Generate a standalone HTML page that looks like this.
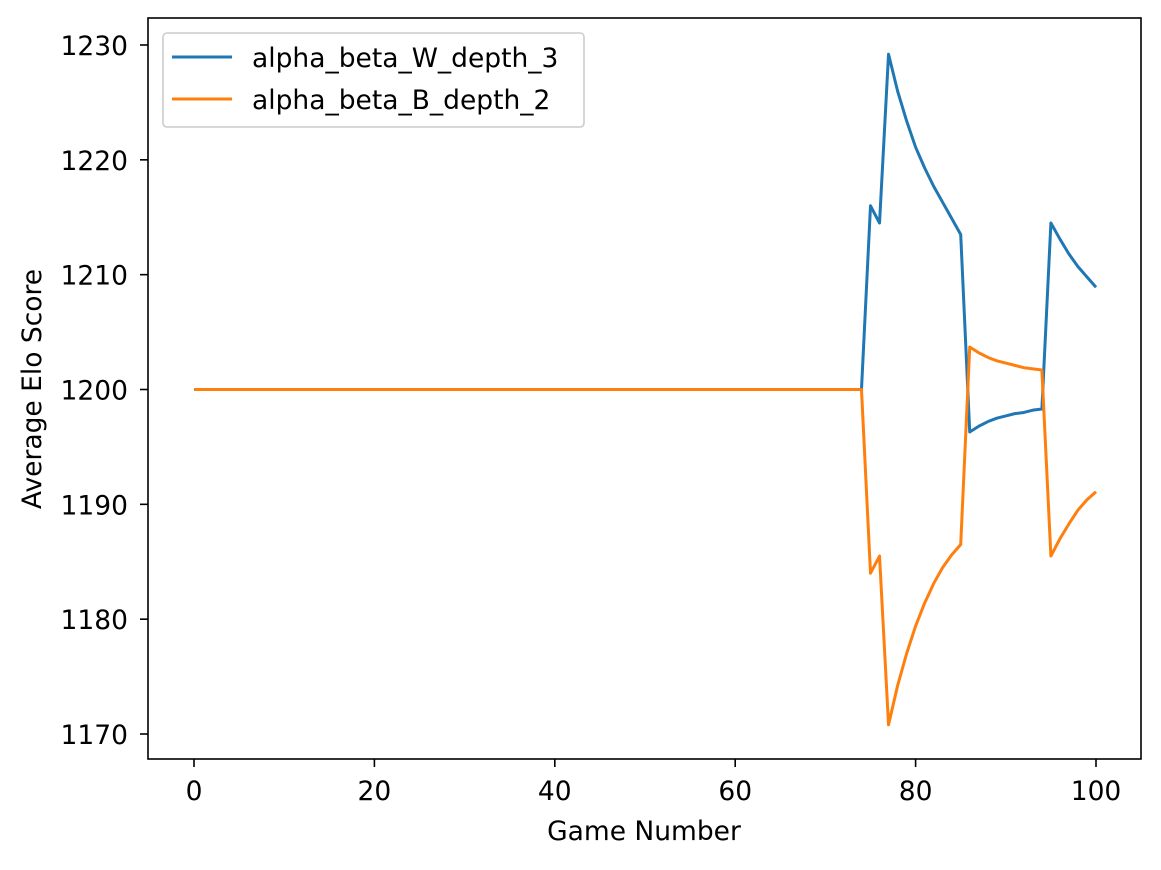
<!DOCTYPE html>
<html><head><meta charset="utf-8"><style>
body{margin:0;background:#fff;font-family:"Liberation Sans","DejaVu Sans",sans-serif}
svg text{font-family:"DejaVu Sans","Liberation Sans",sans-serif;font-size:26.5px;fill:#000}
</style></head><body>
<svg id="chart" width="1161" height="865" xmlns="http://www.w3.org/2000/svg"></svg>
<script>
const xTicks=[0,20,40,60,80,100];
const yTicks=[1170,1180,1190,1200,1210,1220,1230];
const seriesNames=["alpha_beta_W_depth_3","alpha_beta_B_depth_2"];
const seriesColors=["#1f77b4","#ff7f0e"];
const wTail=[1200,1216,1214.5,1229.2,1226,1223.4,1221.1,1219.3,1217.7,1216.3,1214.9,1213.5,1196.3,1196.8,1197.2,1197.5,1197.7,1197.9,1198.0,1198.2,1198.3,1214.5,1213.1,1211.8,1210.7,1209.8,1208.9];
const bTail=[1200,1184,1185.5,1170.8,1174.2,1177,1179.4,1181.4,1183.1,1184.5,1185.6,1186.5,1203.7,1203.2,1202.8,1202.5,1202.3,1202.1,1201.9,1201.8,1201.7,1185.5,1187,1188.3,1189.5,1190.4,1191.1];
const flatStart=[];for(let i=0;i<74;i++)flatStart.push(1200);
const wValues=flatStart.concat(wTail);
const bValues=flatStart.concat(bTail);

const L=148,R=1141,T=18,B=759;
const x=v=>194+(v-0)*(1096-194)/100;
const y=v=>389.5-(v-1200)*(734-45)/60;
const svg=document.getElementById('chart');
const NS='http://www.w3.org/2000/svg';
function mk(tag,attrs,parent){const e=document.createElementNS(NS,tag);for(const k in attrs)e.setAttribute(k,attrs[k]);(parent||svg).appendChild(e);return e;}

const frame=mk('rect',{x:L,y:T,width:R-L,height:B-T,fill:'none',stroke:'#000','stroke-width':1.6});



xTicks.forEach(t=>{
  const l=mk('line',{x1:x(t),x2:x(t),y1:B,y2:B+8,stroke:'#000','stroke-width':1.6});
  
  
  const tx=mk('text',{x:x(t),y:800,'text-anchor':'middle'});tx.textContent=t;
  
  
});
yTicks.forEach(t=>{
  const l=mk('line',{x1:L-8,x2:L,y1:y(t),y2:y(t),stroke:'#000','stroke-width':1.6});
  
  
  const tx=mk('text',{x:128,y:y(t)+10,'text-anchor':'end'});tx.textContent=t;
  
  
});
const xt=mk('text',{x:644,y:840,'text-anchor':'middle'});xt.textContent='Game Number';


const yt=mk('text',{x:0,y:0,'text-anchor':'middle',transform:`translate(41,389) rotate(-90)`});yt.textContent='Average Elo Score';



[wValues,bValues].forEach((vals,i)=>{
  const p=mk('polyline',{points:vals.map((v,j)=>x(j)+','+y(v)).join(' '),fill:'none',stroke:seriesColors[i],'stroke-width':3,'stroke-linejoin':'round'});
  
  
});

const lg=mk('g',{});


mk('rect',{x:163,y:33,width:421,height:94,rx:4,fill:'#fff','fill-opacity':0.8,stroke:'#ccc','stroke-width':1.6},lg);
seriesNames.forEach((n,i)=>{
  const yy=57+i*42;
  const ln=mk('line',{x1:172,x2:232,y1:yy,y2:yy,stroke:seriesColors[i],'stroke-width':3},lg);
  
  
  const t=mk('text',{x:252,y:yy+10},lg);t.textContent=n;
  
  
});
</script>
</body></html>
